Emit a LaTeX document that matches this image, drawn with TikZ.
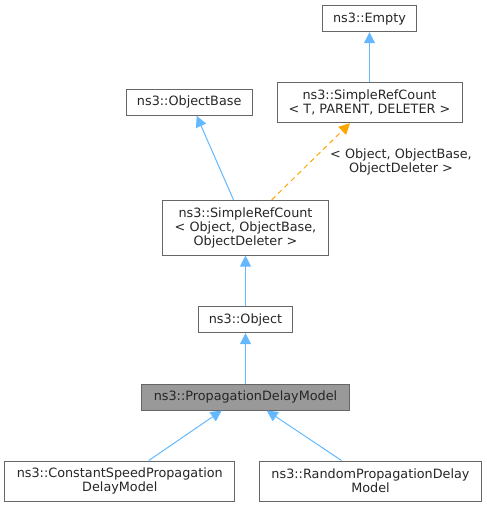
\documentclass[tikz,border=0pt]{standalone}
\usepackage{fontspec}
\setmainfont{DejaVu Sans}
\usetikzlibrary{arrows.meta}
\definecolor{edgeblue}{HTML}{63B8FF}
\definecolor{edgeorange}{HTML}{FFA500}
\definecolor{boxgray}{HTML}{666666}
\definecolor{hlgray}{HTML}{999999}
\begin{document}
\begin{tikzpicture}[x=1pt,y=-1pt,
		cls/.style={draw=boxgray,line width=1pt,fill=white,inner sep=0pt,align=center,
			font=\fontsize{12.8}{14}\selectfont,text=black!85},
		lbl/.style={align=center,font=\fontsize{12.8}{14}\selectfont,text=black!85},
		inh/.style={draw=edgeblue,line width=1pt,-{Triangle[width=11pt,length=11pt,fill=edgeblue]}},
		tpl/.style={draw=edgeorange,line width=1pt,dash pattern=on 5pt off 4pt,
			-{Triangle[width=11pt,length=11pt,fill=edgeorange]}}]
		\useasboundingbox (0,0) rectangle (487,507);
		\node [cls,minimum width=94.3pt,minimum height=26pt] (0) at (369.5,18.7) {ns3::Empty};
		\node [cls,minimum width=185pt,minimum height=40pt] (1) at (369.5,102.7) {ns3::SimpleRefCount\\< T, PARENT, DELETER >};
		\node [cls,minimum width=126.3pt,minimum height=26pt] (2) at (189.2,102.3) {ns3::ObjectBase};
		\node [cls,minimum width=166pt,minimum height=54.7pt] (3) at (245.5,227.7) {ns3::SimpleRefCount\\< Object, ObjectBase,\\ObjectDeleter >};
		\node [cls,minimum width=94.3pt,minimum height=26pt] (4) at (245.5,319.7) {ns3::Object};
		\node [cls,fill=hlgray,minimum width=208pt,minimum height=25.7pt] (5) at (245.5,397.2) {ns3::PropagationDelayModel};
		\node [cls,minimum width=230.3pt,minimum height=40pt] (6) at (119.8,481) {ns3::ConstantSpeedPropagation\\DelayModel};
		\node [cls,minimum width=222.4pt,minimum height=40pt] (7) at (370.5,481) {ns3::RandomPropagationDelay\\Model};
		\node [lbl] (8) at (401,161.5) {< Object, ObjectBase,\\ObjectDeleter >};
		\draw [inh] (1) -- (0);
		\draw [inh] ([xshift=-12pt]3.north) -- ([xshift=7.5pt]2.south);
		\draw [tpl] ([xshift=26.2pt]3.north) -- ([xshift=-19.5pt]1.south);
		\draw [inh] (4) -- (3);
		\draw [inh] (5) -- (4);
		\draw [inh] ([xshift=29pt]6.north) -- ([xshift=-23.8pt]5.south);
		\draw [inh] ([xshift=-29pt]7.north) -- ([xshift=21.2pt]5.south);
	\end{tikzpicture}
\end{document}
